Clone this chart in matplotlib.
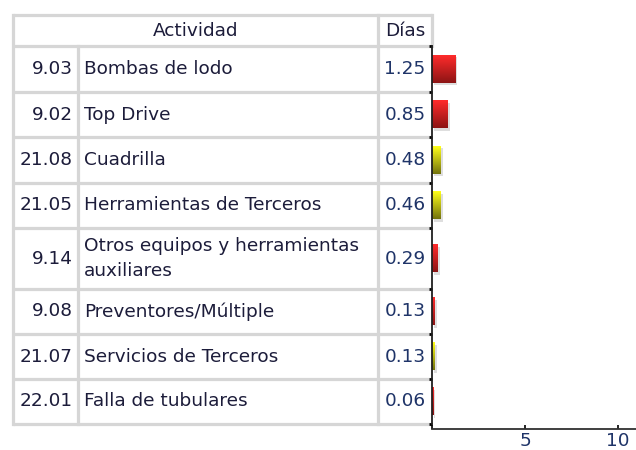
import matplotlib.pyplot as plt
import numpy as np

plt.rcParams["font.family"] = ["DejaVu Sans"]

codes = ["9.03", "9.02", "21.08", "21.05", "9.14", "9.08", "21.07", "22.01"]
activities = [
    "Bombas de lodo",
    "Top Drive",
    "Cuadrilla",
    "Herramientas de Terceros",
    "Otros equipos y herramientas\nauxiliares",
    "Preventores/Múltiple",
    "Servicios de Terceros",
    "Falla de tubulares",
]
days = [1.25, 0.85, 0.48, 0.46, 0.29, 0.13, 0.13, 0.06]
groups = ["eq", "eq", "pers", "pers", "eq", "eq", "pers", "eq"]

# table geometry in pixels (figure is 636x450 at 100 dpi)
row_edges = [15, 46, 92, 137, 183, 228, 289, 334, 379, 424]
col_edges = [13, 78, 378, 432]
GRID = "#d6d6d6"
TXT = "#1c1c3a"
NUM = "#1f3468"

W, H = 636, 450
fig = plt.figure(figsize=(W / 100, H / 100), dpi=100)

tab = fig.add_axes([0, 0, 1, 1])
tab.set_xlim(0, W)
tab.set_ylim(H, 0)
tab.axis("off")

lw = 2.3
for y in row_edges:
    tab.plot([col_edges[0], col_edges[-1]], [y, y], color=GRID, lw=lw, solid_capstyle="butt")
tab.plot([col_edges[0]] * 2, [row_edges[0], row_edges[-1]], color=GRID, lw=lw)
tab.plot([col_edges[1]] * 2, [row_edges[1], row_edges[-1]], color=GRID, lw=lw)
tab.plot([col_edges[2]] * 2, [row_edges[0], row_edges[-1]], color=GRID, lw=lw)
tab.plot([col_edges[3]] * 2, [row_edges[0], row_edges[1]], color=GRID, lw=lw)

fs = 13.3
hy = (row_edges[0] + row_edges[1]) / 2
tab.text((col_edges[0] + col_edges[2]) / 2, hy, "Actividad", ha="center", va="center",
         fontsize=fs, color=TXT)
tab.text((col_edges[2] + col_edges[3]) / 2, hy, "Días", ha="center", va="center",
         fontsize=fs, color=TXT)

centers = [(row_edges[i + 1] + row_edges[i + 2]) / 2 for i in range(len(codes))]
for c, a, d, yc in zip(codes, activities, days, centers):
    tab.text(col_edges[1] - 5, yc, c, ha="right", va="center", fontsize=fs, color=TXT)
    tab.text(col_edges[1] + 6, yc, a, ha="left", va="center", fontsize=fs, color=TXT,
             linespacing=1.45)
    tab.text((col_edges[2] + col_edges[3]) / 2, yc, f"{d:.2f}", ha="center", va="center",
             fontsize=fs, color=NUM)

# bar chart next to the table, y in the same pixel units
top, bottom = row_edges[1], 429
ax = fig.add_axes([432 / W, (H - bottom) / H, (W - 432) / W, (bottom - top) / H])
ax.patch.set_alpha(0)

grad = np.linspace(0, 1, 64).reshape(-1, 1)
shades = {
    "eq": (np.array([1.0, 0.17, 0.17]), np.array([0.55, 0.08, 0.08])),
    "pers": (np.array([1.0, 1.0, 0.1]), np.array([0.45, 0.45, 0.05])),
}
bh = 28
for d, g, yc in zip(days, groups, centers):
    c_top, c_bot = shades[g]
    img = (c_top + (c_bot - c_top) * grad).reshape(64, 1, 3)
    # soft drop shadow
    ax.barh(yc + 2, d, height=bh, left=0.12, color="#c8c8c8", alpha=0.6, zorder=1)
    ax.imshow(img, extent=(0, d, yc + bh / 2, yc - bh / 2), aspect="auto",
              interpolation="bilinear", zorder=2)
ax.set_xlim(0, (W - 432) / 18.6)
ax.set_ylim(bottom, top)

for s in ["top", "right"]:
    ax.spines[s].set_visible(False)
ax.spines["left"].set_bounds(row_edges[1], row_edges[-1])
ax.spines["left"].set_color("#202020")
ax.spines["left"].set_linewidth(1.3)
ax.spines["bottom"].set_color("#303030")
ax.spines["bottom"].set_linewidth(1.3)

ax.set_yticks(row_edges[1:])
ax.tick_params(axis="y", direction="out", length=2.5, width=2, labelleft=False)
ax.set_xticks([0, 5, 10])
ax.set_xticklabels(["", "5", "10"])
ax.tick_params(axis="x", direction="in", length=3, width=1.2, pad=2,
               labelsize=13.3, labelcolor=NUM)

fig.savefig("out.png", dpi=100)
